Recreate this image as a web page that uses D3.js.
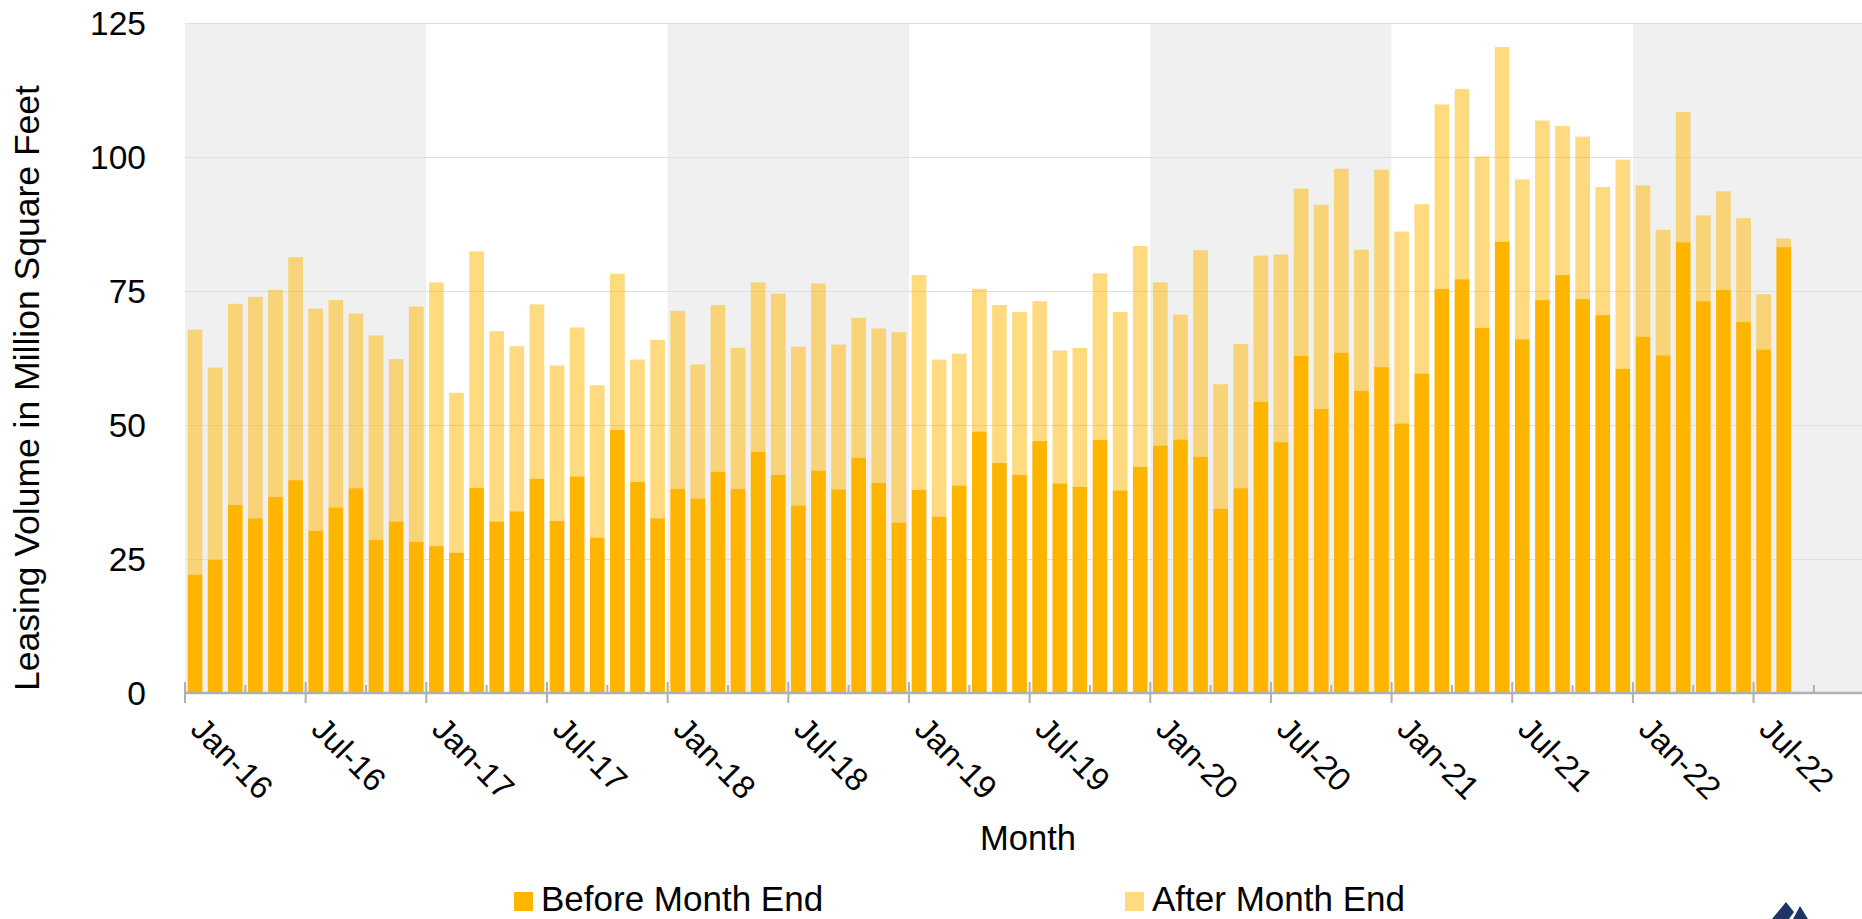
<!DOCTYPE html>
<html>
<head>
<meta charset="utf-8">
<script src="https://cdn.jsdelivr.net/npm/d3@7"></script>
<style>
  html, body { margin: 0; padding: 0; background: #fff; }
  svg { display: block; font-family: "Liberation Sans", Arial, sans-serif; }
</style>
</head>
<body>
<div id="chart"></div>
<script>
// monthly leasing volume, Jan-16 .. Aug-22 (million sq ft)
const beforeMonthEnd = [
    22.1, 24.8, 35.1, 32.6, 36.6, 39.7, 30.3, 34.6, 38.2, 28.6, 32.0, 28.2,
    27.4, 26.2, 38.3, 32.0, 33.9, 40.0, 32.1, 40.4, 29.0, 49.1, 39.4, 32.6,
    38.1, 36.3, 41.3, 38.1, 45.0, 40.7, 35.0, 41.5, 38.0, 43.9, 39.2, 31.8,
    37.9, 32.9, 38.7, 48.8, 42.9, 40.7, 47.0, 39.1, 38.5, 47.2, 37.8, 42.2,
    46.2, 47.3, 44.1, 34.4, 38.2, 54.3, 46.8, 62.9, 53.0, 63.5, 56.4, 60.8,
    50.3, 59.6, 75.4, 77.2, 68.1, 84.2, 66.0, 73.3, 78.0, 73.5, 70.5, 60.5,
    66.5, 63.0, 84.1, 73.1, 75.2, 69.2, 64.1, 83.2
];
const afterMonthEnd = [
    45.7, 35.9, 37.5, 41.3, 38.6, 41.6, 41.4, 38.7, 32.6, 38.1, 30.3, 43.9,
    49.2, 29.8, 44.1, 35.5, 30.8, 32.5, 29.0, 27.8, 28.4, 29.1, 22.8, 33.3,
    33.2, 25.0, 31.1, 26.3, 31.6, 33.8, 29.6, 34.9, 27.0, 26.1, 28.8, 35.5,
    40.1, 29.3, 24.6, 26.6, 29.5, 30.4, 26.1, 24.8, 25.9, 31.1, 33.3, 41.2,
    30.4, 23.3, 38.5, 23.2, 26.9, 27.3, 35.0, 31.2, 38.1, 34.3, 26.3, 36.8,
    35.8, 31.6, 34.4, 35.5, 32.0, 36.3, 29.8, 33.5, 27.8, 30.3, 23.9, 39.0,
    28.2, 23.4, 24.3, 16.0, 18.4, 19.4, 10.3, 1.6
];
const tickLabels = ["Jan-16", "Jul-16", "Jan-17", "Jul-17", "Jan-18", "Jul-18", "Jan-19",
    "Jul-19", "Jan-20", "Jul-20", "Jan-21", "Jul-21", "Jan-22", "Jul-22"];
const yTicks = [0, 25, 50, 75, 100, 125];
const seriesNames = ["Before Month End", "After Month End"];

const W = 1862, H = 919;
const M = { left: 185, top: 23, bottom: 693 };
const DARK = "#ffb500";

const fmt = d3.timeFormat("%b-%y");
const months = d3.timeMonths(new Date(2016, 0, 1), new Date(2023, 0, 1)).map(fmt); // axis runs to Dec-22
const rows = beforeMonthEnd.map((b, i) => ({ month: months[i], before: b, after: afterMonthEnd[i] }));

const step = 20.11;
const x = d3.scaleBand()
    .domain(months)
    .range([M.left, M.left + step * months.length])
    .paddingInner(0.27)
    .paddingOuter(0.135);
const y = d3.scaleLinear().domain([0, 125]).range([M.bottom, M.top]);
const slotStart = m => x(m) - x.step() * x.paddingOuter();

const svg = d3.select("#chart").append("svg").attr("width", W).attr("height", H);

// alternating year bands
const years = d3.range(2016, 2023);
svg.append("g").selectAll("rect").data(years).join("rect")
    .attr("x", yr => slotStart(fmt(new Date(yr, 0, 1))))
    .attr("y", y(125))
    .attr("width", x.step() * 12)
    .attr("height", y(0) - y(125))
    .attr("fill", yr => (yr % 2 === 0 ? "#f0f0f0" : "#ffffff"));

// gridlines
svg.append("g").selectAll("line").data(yTicks.slice(1)).join("line")
    .attr("x1", M.left).attr("x2", W)
    .attr("y1", d => y(d) + 0.5).attr("y2", d => y(d) + 0.5)
    .attr("stroke", "#dfdfdf").attr("stroke-width", 1.2);

// stacked bars
const stack = d3.stack().keys(["before", "after"])(rows);
const opac = [1, 0.5];
svg.append("g").selectAll("g").data(stack).join("g")
    .attr("fill", DARK)
    .attr("fill-opacity", (d, i) => opac[i])
    .selectAll("rect").data(d => d).join("rect")
    .attr("x", d => x(d.data.month))
    .attr("y", d => y(d[1]))
    .attr("width", x.bandwidth())
    .attr("height", d => y(d[0]) - y(d[1]));

// x axis
const ax = svg.append("g");
ax.append("line")
    .attr("x1", M.left).attr("x2", W)
    .attr("y1", M.bottom).attr("y2", M.bottom)
    .attr("stroke", "#b0b0b0").attr("stroke-width", 2.5);
const quarterMonths = months.filter((m, i) => i % 3 === 0);
ax.selectAll(".tk").data(quarterMonths).join("line")
    .attr("class", "tk")
    .attr("x1", m => slotStart(m)).attr("x2", m => slotStart(m))
    .attr("y1", m => (tickLabels.includes(m) ? M.bottom - 11 : M.bottom - 8))
    .attr("y2", m => (tickLabels.includes(m) ? M.bottom + 10 : M.bottom))
    .attr("stroke", "#b0b0b0").attr("stroke-width", 2);
ax.selectAll("text").data(tickLabels).join("text")
    .attr("transform", m => `translate(${slotStart(m) + 4}, ${M.bottom + 38}) rotate(45)`)
    .attr("font-size", 32.5)
    .attr("fill", "#000")
    .text(m => m);

// y axis labels
svg.append("g").selectAll("text").data(yTicks).join("text")
    .attr("x", 146)
    .attr("y", d => y(d))
    .attr("dy", "0.36em")
    .attr("text-anchor", "end")
    .attr("font-size", 33.5)
    .text(d => d);

// axis titles
svg.append("text")
    .attr("transform", "translate(39, 388) rotate(-90)")
    .attr("text-anchor", "middle")
    .attr("font-size", 35.5)
    .text("Leasing Volume in Million Square Feet");
svg.append("text")
    .attr("x", 1028).attr("y", 850)
    .attr("text-anchor", "middle")
    .attr("font-size", 34.5)
    .text("Month");

// legend
const legendX = [514, 1125];
const lg = svg.append("g").selectAll("g").data(seriesNames).join("g")
    .attr("transform", (d, i) => `translate(${legendX[i]}, 892)`);
lg.append("rect").attr("width", 19).attr("height", 19)
    .attr("fill", DARK).attr("fill-opacity", (d, i) => opac[i]);
lg.append("text").attr("x", 27).attr("y", 19).attr("font-size", 35).text(d => d);

// corner logo, cut off by the frame
svg.append("path")
    .attr("d", "M1772,919 L1786,902 L1794,912 L1789,919 Z M1793,919 L1800,906 L1808,919 Z")
    .attr("fill", "#1f3566");
</script>
</body>
</html>
